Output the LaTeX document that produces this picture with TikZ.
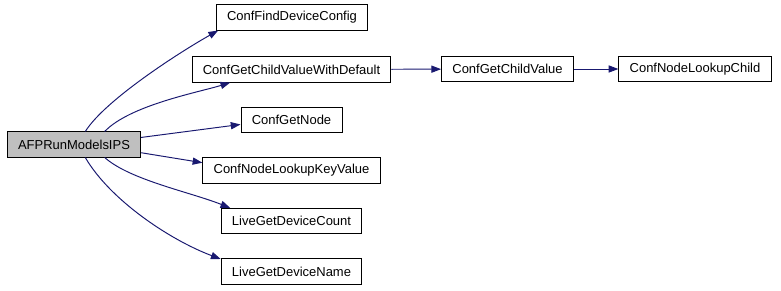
\documentclass[tikz,border=0pt]{standalone}
\usepackage{fontspec}
\setmainfont{Liberation Sans}
\usepackage{tikz}
\usetikzlibrary{arrows.meta, positioning}
\definecolor{edgeblue}{HTML}{191970}
\definecolor{callergray}{HTML}{BFBFBF}

\begin{document}
\begin{tikzpicture}[
    x=0.77pt, y=0.77pt,
    every node/.style={font=\fontsize{10}{12}\selectfont},
    func/.style={
        rectangle,
        draw=black,
        fill=white,
        line width=0.75pt,
        inner xsep=8.3pt,
        inner ysep=0pt,
        minimum height=19.3pt,
        align=center
    },
    caller/.style={func, fill=callergray},
    call/.style={line width=0.75pt, -{Triangle[length=7.5pt, width=5.5pt]}, color=edgeblue}
]
\useasboundingbox (0,0) rectangle (781,-291);

\node[caller] (run) at (74,-144.5) {AFPRunModelsIPS};

\node[func] (find) at (292,-17.5) {ConfFindDeviceConfig};
\node[func] (default) at (291.5,-69.5) {ConfGetChildValueWithDefault};
\node[func] (getnode) at (291.5,-120) {ConfGetNode};
\node[func] (keyvalue) at (291.5,-170.5) {ConfNodeLookupKeyValue};
\node[func] (count) at (291.5,-221) {LiveGetDeviceCount};
\node[func] (name) at (291.5,-271.5) {LiveGetDeviceName};

\node[func] (childvalue) at (507.5,-69) {ConfGetChildValue};
\node[func] (lookupchild) at (695,-69) {ConfNodeLookupChild};

% calls made by AFPRunModelsIPS
\draw[call] (run.49) .. controls (105,-100) and (180,-52) .. (find.190);
\draw[call] (run.23) .. controls (130,-105) and (200,-92) .. (default.192);
\draw[call] (run.6) -- (getnode.185);
\draw[call] (run.-7) -- (keyvalue.175);
\draw[call] (run.-23) .. controls (130,-180) and (190,-192) .. (count.168);
\draw[call] (run.-49) .. controls (110,-200) and (170,-240) .. (name.170);

% nested calls
\draw[call] (default) -- (childvalue);
\draw[call] (childvalue) -- (lookupchild);

\end{tikzpicture}
\end{document}
